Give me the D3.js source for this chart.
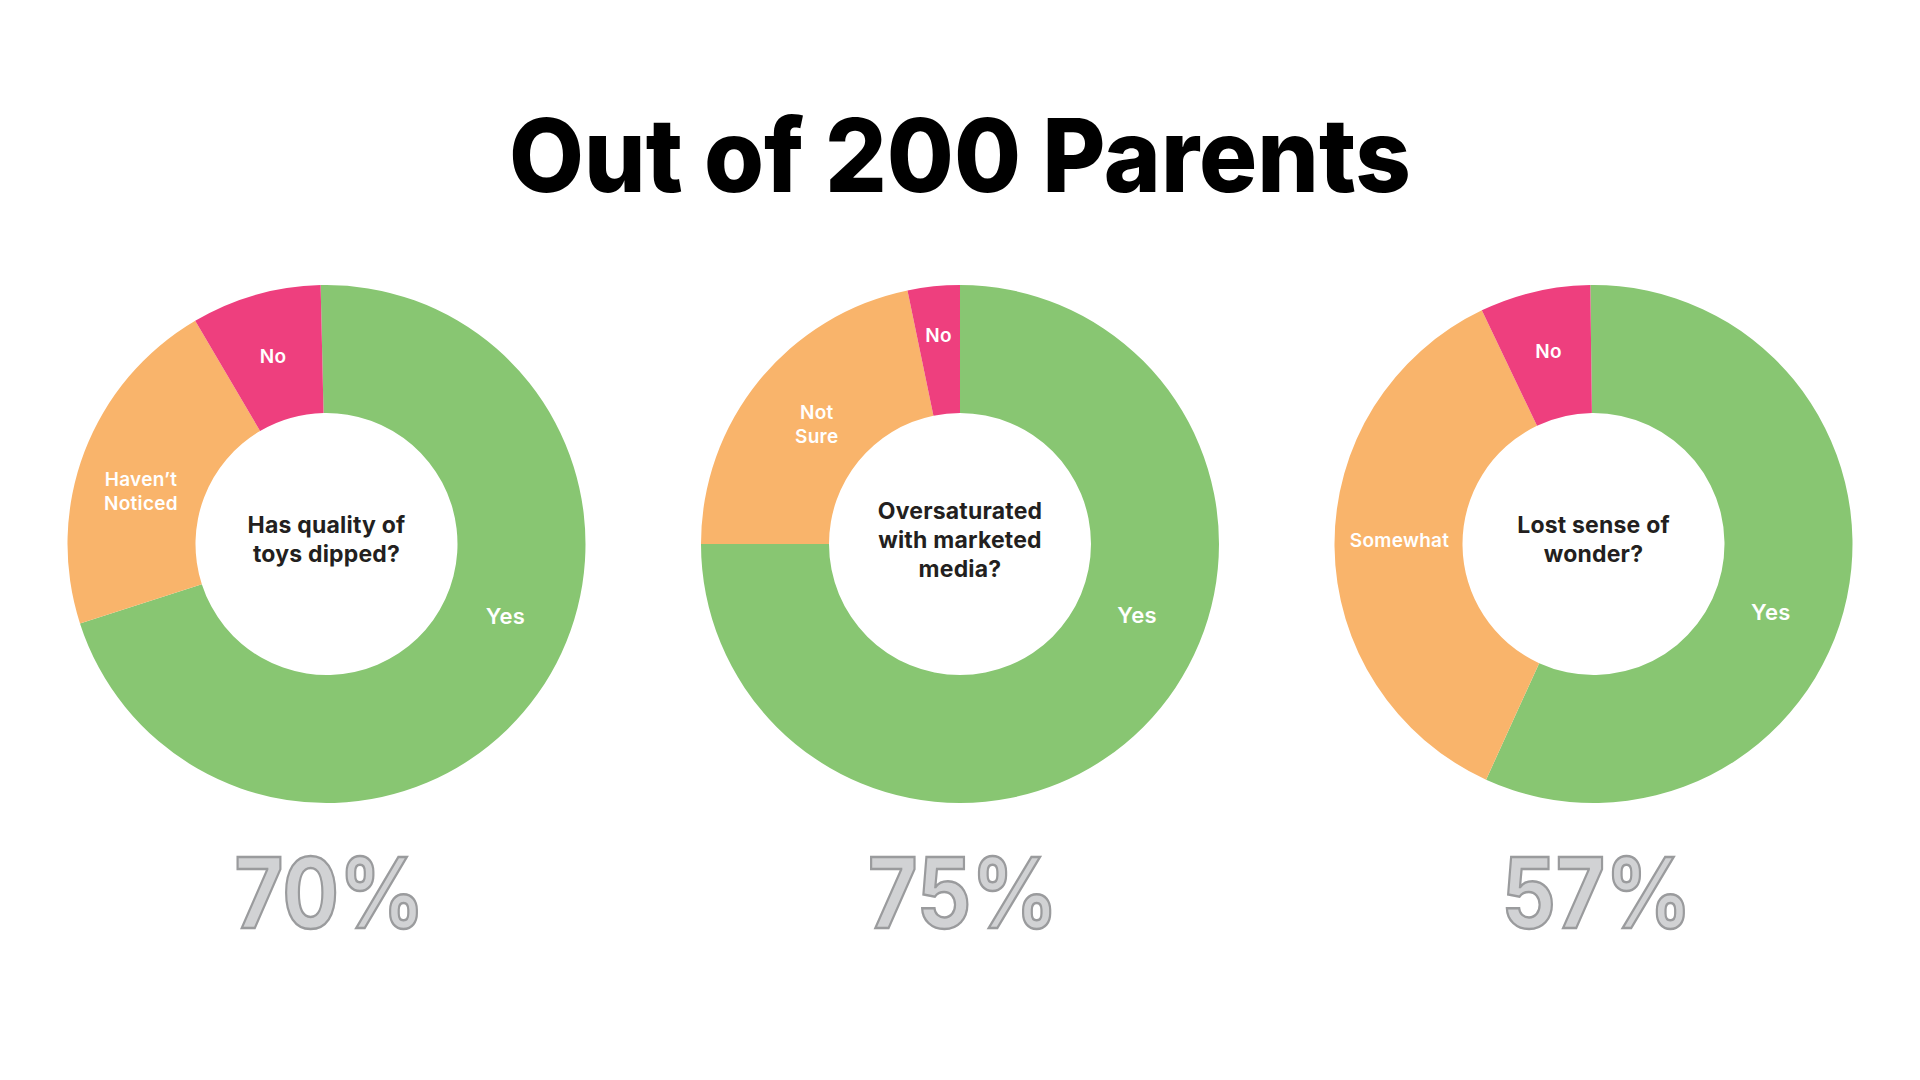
<!DOCTYPE html>
<html>
<head>
<meta charset="utf-8">
<script src="https://cdn.jsdelivr.net/npm/d3@7"></script>
<style>
  html, body { margin: 0; padding: 0; background: #ffffff; }
  svg { display: block; }
</style>
</head>
<body>
<svg id="chart" width="1920" height="1080"></svg>
<script>
// ---------------- data ----------------
const title = "Out of 200 Parents";
const questions = [
  ["Has quality of", "toys dipped?"],
  ["Oversaturated", "with marketed", "media?"],
  ["Lost sense of", "wonder?"]
];
const categories1 = ["Yes", "Haven’t\nNoticed", "No"];
const categories2 = ["Yes", "Not\nSure", "No"];
const categories3 = ["Yes", "Somewhat", "No"];
// shares in percent
const shares1 = [70.4, 21.5, 8.1];
const shares2 = [75, 21.75, 3.25];
const shares3 = [57, 36.1, 6.9];
const sliceColors = ["#88C672", "#F9B46B", "#EE3F7E"];

// ---------------- layout ----------------
const W = 1920, H = 1080;
const cy = 544;
const outerR = 259, innerR = 131;
const centers = [326.5, 960, 1593.5];
const rotationsDeg = [-1.3, 0, -0.7];
// label placement per chart: [angleDeg or null (=slice middle), radius]
const labelPlacement = [
  [[112, 193], [286, 193], [null, 195]],
  [[112, 191], [310, 187], [null, 210]],
  [[111, 190], [271.1, 194], [null, 198]]
];
const font = "Inter, 'Open Sans', Lato, sans-serif";

const svg = d3.select("#chart");
svg.append("rect").attr("width", W).attr("height", H).attr("fill", "#ffffff");

svg.append("text")
  .attr("x", 960).attr("y", 192)
  .attr("text-anchor", "middle")
  .attr("font-family", font)
  .attr("font-weight", 800)
  .attr("font-size", 102)
  .attr("fill", "#000000")
  .attr("textLength", 902)
  .attr("lengthAdjust", "spacingAndGlyphs")
  .text(title);

const charts = [
  { cats: categories1, vals: shares1, q: questions[0] },
  { cats: categories2, vals: shares2, q: questions[1] },
  { cats: categories3, vals: shares3, q: questions[2] }
];

const arc = d3.arc().innerRadius(innerR).outerRadius(outerR);
const rad = Math.PI / 180;

charts.forEach((c, i) => {
  const rot = rotationsDeg[i] * rad;
  const pie = d3.pie().sort(null).value(d => d.v)
    .startAngle(rot).endAngle(rot + 2 * Math.PI);
  const g = svg.append("g").attr("transform", `translate(${centers[i]},${cy})`);
  const data = c.cats.map((k, j) => ({ k, v: c.vals[j], color: sliceColors[j] }));
  const arcs = pie(data);

  g.selectAll("path.slice").data(arcs).join("path")
    .attr("class", "slice")
    .attr("d", arc)
    .attr("fill", d => d.data.color);

  // slice labels
  arcs.forEach((d, j) => {
    const [aDeg, r] = labelPlacement[i][j];
    const ang = aDeg === null ? (d.startAngle + d.endAngle) / 2 : aDeg * rad;
    const lArc = d3.arc().innerRadius(r).outerRadius(r);
    const [lx, ly] = lArc.centroid({ startAngle: ang, endAngle: ang });
    const lines = d.data.k.split("\n");
    const fs = j === 0 ? 22 : 19;
    const lh = 24;
    const t = g.append("text")
      .attr("text-anchor", "middle")
      .attr("font-family", font)
      .attr("font-weight", 600)
      .attr("font-size", fs)
      .attr("letter-spacing", 0.3)
      .attr("fill", "#ffffff");
    lines.forEach((ln, li) => {
      t.append("tspan")
        .attr("x", lx)
        .attr("y", ly + (li - (lines.length - 1) / 2) * lh + fs * 0.36)
        .text(ln);
    });
  });

  // center question
  const qfs = 23;
  const qt = g.append("text")
    .attr("text-anchor", "middle")
    .attr("font-family", font)
    .attr("font-weight", 700)
    .attr("font-size", qfs)
    .attr("letter-spacing", 0.2)
    .attr("fill", "#231F20");
  const qlh = 29;
  c.q.forEach((ln, li) => {
    qt.append("tspan")
      .attr("x", 0)
      .attr("y", (li - (c.q.length - 1) / 2) * qlh + qfs * 0.36 - 4.5)
      .text(ln);
  });

  // percent figure (share of "Yes")
  const pct = Math.round(c.vals[0]) + "%";
  svg.append("text")
    .attr("x", centers[i] + 3)
    .attr("y", 928)
    .attr("text-anchor", "middle")
    .attr("font-family", font)
    .attr("font-weight", 700)
    .attr("font-size", 98)
    .attr("fill", "#D1D2D4")
    .attr("stroke", "#9A9B9D")
    .attr("stroke-width", 2.5)
    .attr("textLength", 190)
    .attr("lengthAdjust", "spacingAndGlyphs")
    .text(pct);
});
</script>
</body>
</html>
